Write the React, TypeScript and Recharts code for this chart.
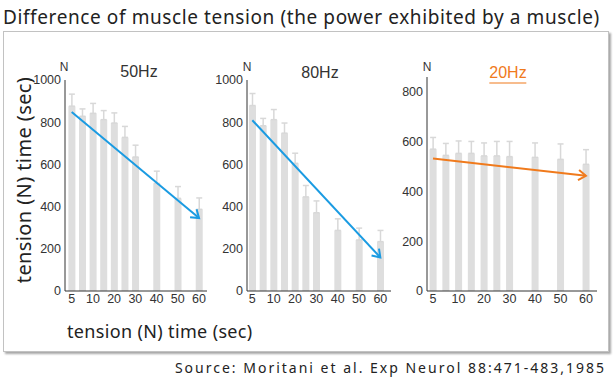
import React from "react";
import { BarChart, Bar, XAxis, YAxis, ErrorBar, ReferenceLine } from "recharts";

// x position of each bar on the shared time axis (gaps after 30 s)
const barSlots = [0, 1, 2, 3, 4, 5, 6, 8, 10, 12];
const tickSlots = [0, 2, 4, 6, 8, 10, 12];
const tickLabels = ["5", "10", "20", "30", "40", "50", "60"];

// mean tension (N) and upper SD whisker per panel
const tension50 = [876, 828, 842, 812, 796, 728, 635, 510, 439, 387];
const sd50 = [57, 35, 47, 43, 48, 52, 56, 58, 56, 54];
const tension80 = [879, 783, 812, 748, 605, 446, 371, 287, 242, 234];
const sd80 = [57, 35, 48, 48, 48, 54, 56, 55, 56, 53];
const tension20 = [570, 545, 553, 553, 543, 543, 540, 537, 529, 509];
const sd20 = [47, 48, 50, 48, 52, 58, 61, 58, 62, 59];

// trend arrows: value at 5 s -> value at 60 s
const trend50 = [848, 346];
const trend80 = [809, 159];
const trend20 = [532, 463];

const ticks1000 = [0, 200, 400, 600, 800, 1000];
const ticks800 = [0, 200, 400, 600, 800];

const BLUE = "#1a9be2";
const ORANGE = "#f07a1c";
const BAR = "#dedede";
const INK = "#333";
const FONT = "'Liberation Sans', Arial, sans-serif";
const LABEL_FONT = "'Noto Sans', 'Open Sans', sans-serif";

function Arrow(props: any) {
  const { x1, y1, x2, y2, stroke } = props;
  const ang = Math.atan2(y2 - y1, x2 - x1);
  const len = 9;
  const spread = 0.6;
  const a = [x2 - len * Math.cos(ang - spread), y2 - len * Math.sin(ang - spread)];
  const b = [x2 - len * Math.cos(ang + spread), y2 - len * Math.sin(ang + spread)];
  return (
    <g>
      <line x1={x1} y1={y1} x2={x2} y2={y2} stroke={stroke} strokeWidth={2} />
      <polyline
        points={`${a[0]},${a[1]} ${x2},${y2} ${b[0]},${b[1]}`}
        fill="none"
        stroke={stroke}
        strokeWidth={2}
      />
    </g>
  );
}

const tickStyle = { fontFamily: FONT, fontSize: 12.5, fill: INK };

function Panel({
  left,
  top,
  width,
  height,
  values,
  sd,
  trend,
  yDomain,
  yTicks,
  xDomain,
  color,
}: {
  left: number;
  top: number;
  width: number;
  height: number;
  values: number[];
  sd: number[];
  trend: number[];
  yDomain: [number, number];
  yTicks: number[];
  xDomain: [number, number];
  color: string;
}) {
  const data = values.map((v, i) => ({ x: barSlots[i], v, sd: sd[i] }));
  return (
    <div style={{ position: "absolute", left, top }}>
      <BarChart
        width={width}
        height={height}
        data={data}
        margin={{ top: 20, right: 0, left: 0, bottom: 0 }}
      >
        <XAxis
          dataKey="x"
          type="number"
          domain={xDomain}
          allowDataOverflow
          ticks={tickSlots}
          interval={0}
          tickFormatter={(v: number) => tickLabels[tickSlots.indexOf(v)] ?? ""}
          tick={tickStyle}
          tickLine={false}
          tickSize={1}
          tickMargin={2}
          height={30}
          axisLine={{ stroke: INK }}
        />
        <YAxis
          type="number"
          domain={yDomain}
          allowDataOverflow
          ticks={yTicks}
          interval={0}
          tick={tickStyle}
          tickLine={false}
          tickSize={2}
          tickMargin={2}
          width={45}
          axisLine={{ stroke: INK }}
        />
        <Bar dataKey="v" fill={BAR} barSize={7} isAnimationActive={false}>
          <ErrorBar
            dataKey={(d: any) => [0, d.sd]}
            width={3}
            stroke="#d8d8d8"
            strokeWidth={1.5}
            isAnimationActive={false}
          />
        </Bar>
        <ReferenceLine
          segment={[
            { x: barSlots[0], y: trend[0] },
            { x: barSlots[barSlots.length - 1], y: trend[1] },
          ]}
          stroke={color}
          shape={<Arrow />}
        />
      </BarChart>
    </div>
  );
}

const abs = (style: React.CSSProperties): React.CSSProperties => ({
  position: "absolute",
  whiteSpace: "nowrap",
  lineHeight: 1,
  ...style,
});

const centered = (left: number, top: number, fontSize: number, color = INK) =>
  abs({
    left,
    top,
    transform: "translate(-50%,-50%)",
    fontFamily: FONT,
    fontSize,
    color,
  });

export default function App() {
  return (
    <div
      style={{
        position: "absolute",
        left: 0,
        top: 0,
        width: 613,
        height: 380,
        background: "#fff",
        overflow: "hidden",
        color: "#222",
      }}
    >
      <div
        style={abs({
          left: 3,
          top: 8,
          fontFamily: LABEL_FONT,
          fontSize: 19,
          letterSpacing: 0.6,
        })}
      >
        Difference of muscle tension (the power exhibited by a muscle)
      </div>
      <div
        style={{
          position: "absolute",
          left: 3,
          top: 31,
          width: 604,
          height: 319,
          border: "1px solid #c2c2c2",
          boxShadow: "2px 2px 2px rgba(0,0,0,0.35)",
        }}
      />

      <Panel
        left={20}
        top={60}
        width={187}
        height={261}
        values={tension50}
        sd={sd50}
        trend={trend50}
        yDomain={[0, 1000]}
        yTicks={ticks1000}
        xDomain={[-0.63, 12.75]}
        color={BLUE}
      />
      <Panel
        left={202}
        top={60}
        width={189}
        height={261}
        values={tension80}
        sd={sd80}
        trend={trend80}
        yDomain={[0, 1000]}
        yTicks={ticks1000}
        xDomain={[-0.5, 13]}
        color={BLUE}
      />
      <Panel
        left={382}
        top={57}
        width={215}
        height={264}
        values={tension20}
        sd={sd20}
        trend={trend20}
        yDomain={[0, 860]}
        yTicks={ticks800}
        xDomain={[-0.47, 12.87]}
        color={ORANGE}
      />

      {/* panel headings and unit marks */}
      <div style={centered(139, 72, 16)}>50Hz</div>
      <div style={centered(320, 73, 16)}>80Hz</div>
      <div
        style={{
          ...centered(508, 74, 16, ORANGE),
          borderBottom: `1px solid ${ORANGE}`,
          paddingBottom: 2,
        }}
      >
        20Hz
      </div>
      <div style={centered(64, 67, 12)}>N</div>
      <div style={centered(247, 67, 12)}>N</div>
      <div style={centered(427, 67, 12)}>N</div>

      {/* axis titles */}
      <div
        style={abs({
          left: 24,
          top: 180,
          transform: "translate(-50%,-50%) rotate(-90deg)",
          fontFamily: LABEL_FONT,
          fontSize: 20,
          letterSpacing: 0.4,
        })}
      >
        tension (N) time (sec)
      </div>
      <div
        style={abs({
          left: 67,
          top: 331,
          transform: "translateY(-50%)",
          fontFamily: LABEL_FONT,
          fontSize: 18,
          letterSpacing: 0.35,
        })}
      >
        tension (N) time (sec)
      </div>

      <div
        style={abs({
          right: 7,
          top: 368,
          transform: "translateY(-50%)",
          fontFamily: LABEL_FONT,
          fontSize: 14,
          letterSpacing: 2,
        })}
      >
        Source: Moritani et al. Exp Neurol 88:471-483,1985
      </div>
    </div>
  );
}
